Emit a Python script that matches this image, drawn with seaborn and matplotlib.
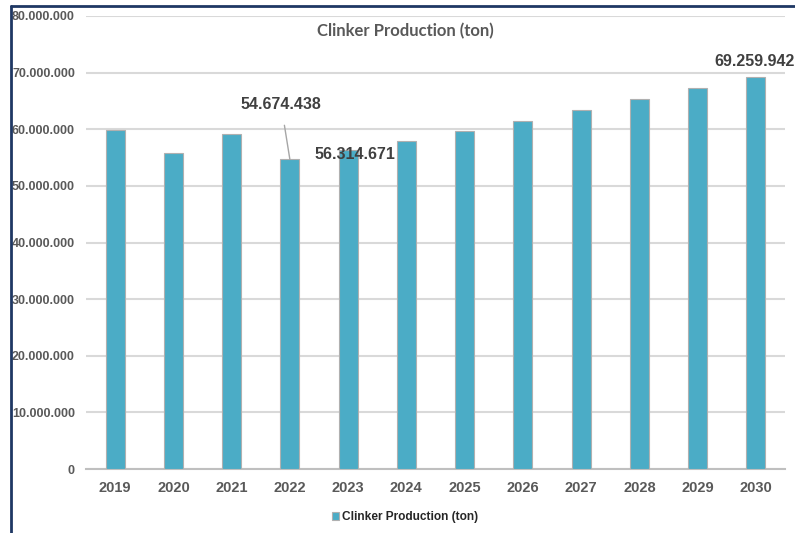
import matplotlib
matplotlib.use("Agg")
import matplotlib.pyplot as plt
from matplotlib.lines import Line2D
from matplotlib.font_manager import FontProperties
from matplotlib.ticker import FuncFormatter, MultipleLocator
import pandas as pd
import seaborn as sns

years = ["2019", "2020", "2021", "2022", "2023", "2024",
         "2025", "2026", "2027", "2028", "2029", "2030"]
production = [59_800_000, 55_800_000, 59_200_000, 54_674_438, 56_314_671, 58_000_000,
              59_700_000, 61_500_000, 63_400_000, 65_300_000, 67_200_000, 69_259_942]
series_name = "Clinker Production (ton)"

df = pd.DataFrame({"year": years, "production": production})

sns.set_theme(style="white")
plt.rcParams["font.family"] = ["Liberation Sans", "DejaVu Sans"]

BAR = "#4BACC6"
GRID = "#D9D9D9"
TICK = "#595959"
LABEL = "#404040"

fig = plt.figure(figsize=(7.95, 5.33), dpi=100)
fig.patch.set_facecolor("white")
ax = fig.add_axes([86 / 795, 1 - 469 / 533, 699 / 795, 453 / 533])

sns.barplot(data=df, x="year", y="production", color=BAR, width=0.33,
            edgecolor="#B0B0B0", linewidth=0.8, saturation=1,
            label=series_name, ax=ax, zorder=3)

ax.set_ylim(0, 80_000_000)
ax.set_xlim(-0.5, len(years) - 0.5)
ax.yaxis.set_major_locator(MultipleLocator(10_000_000))
ax.yaxis.set_major_formatter(FuncFormatter(lambda v, _: f"{int(v):,}".replace(",", ".")))
ax.grid(axis="y", color=GRID, linewidth=1.5, zorder=0)
ax.set_axisbelow(True)
for side in ("top", "right", "left"):
    ax.spines[side].set_visible(False)
ax.spines["bottom"].set_color("#BFBFBF")
ax.spines["bottom"].set_linewidth(1.5)
ax.set_xlabel("")
ax.set_ylabel("")

ax.tick_params(axis="both", length=0, colors=TICK)
ax.tick_params(axis="y", pad=8)
ax.tick_params(axis="x", pad=9)
for lab in ax.get_yticklabels():
    lab.set_fontproperties(FontProperties(family="Liberation Sans", weight="bold", size=9))
    lab.set_color(TICK)
for lab in ax.get_xticklabels():
    lab.set_fontproperties(FontProperties(family="Liberation Sans", weight="bold", size=10.5))
    lab.set_color(TICK)

# chart title inside the plotting area
ax.text(0.457, 0.967, series_name, transform=ax.transAxes, ha="center", va="center",
        fontsize=12, fontweight="bold", color=TICK, family=["Lato", "DejaVu Sans"])

def fmt(v):
    return f"{v:,}".replace(",", ".")

lab_kw = dict(fontsize=11.5, fontweight="bold", color=LABEL, ha="center", va="center")
ax.annotate(fmt(production[3]), xy=(3, production[3]), xytext=(2.85, 64_300_000),
            arrowprops=dict(arrowstyle="-", color="#A6A6A6", lw=1,
                            shrinkA=7, shrinkB=0), zorder=5, **lab_kw)
ax.text(4.11, 55_600_000, fmt(production[4]), zorder=5, **lab_kw)
ax.text(10.97, 71_900_000, fmt(production[11]), zorder=5, **lab_kw)

leg = ax.legend(loc="center", bbox_to_anchor=(405 / 795, 1 - 517 / 533),
                bbox_transform=fig.transFigure, frameon=False,
                handlelength=0.6, handleheight=0.6, handletextpad=0.3,
                prop=dict(family=["Liberation Sans"], weight="bold", size=8.6))
for t in leg.get_texts():
    t.set_color("#262626")

# outer frame (left and top edges)
navy = "#1F3864"
fig.add_artist(Line2D([11 / 795, 11 / 795], [0, 1 - 6 / 533], color=navy, lw=2,
                      transform=fig.transFigure))
fig.add_artist(Line2D([11 / 795, 1], [1 - 6 / 533, 1 - 6 / 533], color=navy, lw=2,
                      transform=fig.transFigure))

fig.savefig("out.png", dpi=100)
